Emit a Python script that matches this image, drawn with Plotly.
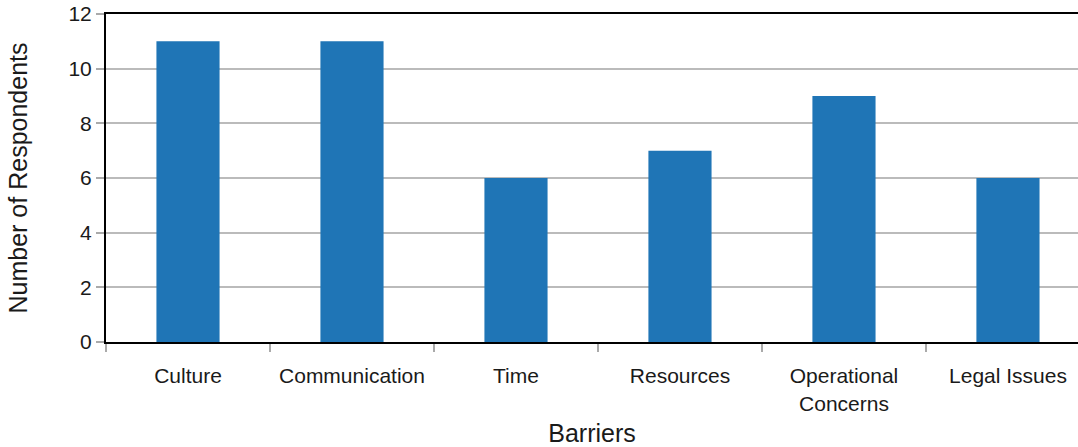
import plotly.graph_objects as go

categories = ["Culture", "Communication", "Time", "Resources", "Operational<br>Concerns", "Legal Issues"]
respondents = [11, 11, 6, 7, 9, 6]
y_ticks = [0, 2, 4, 6, 8, 10, 12]

FONT = "Liberation Sans Narrow, Liberation Sans, Arial, sans-serif"

fig = go.Figure(go.Bar(
    x=categories, y=respondents,
    marker=dict(color="#1f75b6", line=dict(width=0)),
    width=0.385,
))

fig.update_layout(
    width=1078, height=447,
    margin=dict(l=106, r=0, t=14, b=105),
    paper_bgcolor="white", plot_bgcolor="white",
    font=dict(family=FONT, size=21, color="#1a1a1a"),
    showlegend=False,
)
fig.update_xaxes(
    range=[-0.5, 5.427],
    showline=True, linecolor="black", linewidth=2, mirror=True,
    ticks="outside", tickson="boundaries", ticklen=8, tickcolor="#aaa", tickwidth=2,
    tickangle=0, ticklabelstandoff=14,
    showgrid=False, automargin=False,
    title=dict(text="Barriers", standoff=12),
)
fig.update_yaxes(
    range=[0, 12], tickvals=y_ticks,
    showline=True, linecolor="black", linewidth=2,
    ticks="outside", ticklen=8, tickcolor="#aaa", tickwidth=2,
    showgrid=True, gridcolor="#bbbbbb", gridwidth=2,
    zeroline=False, automargin=False,
    title=dict(text="Number of Respondents", standoff=34),
)

fig.write_html("out.html")
